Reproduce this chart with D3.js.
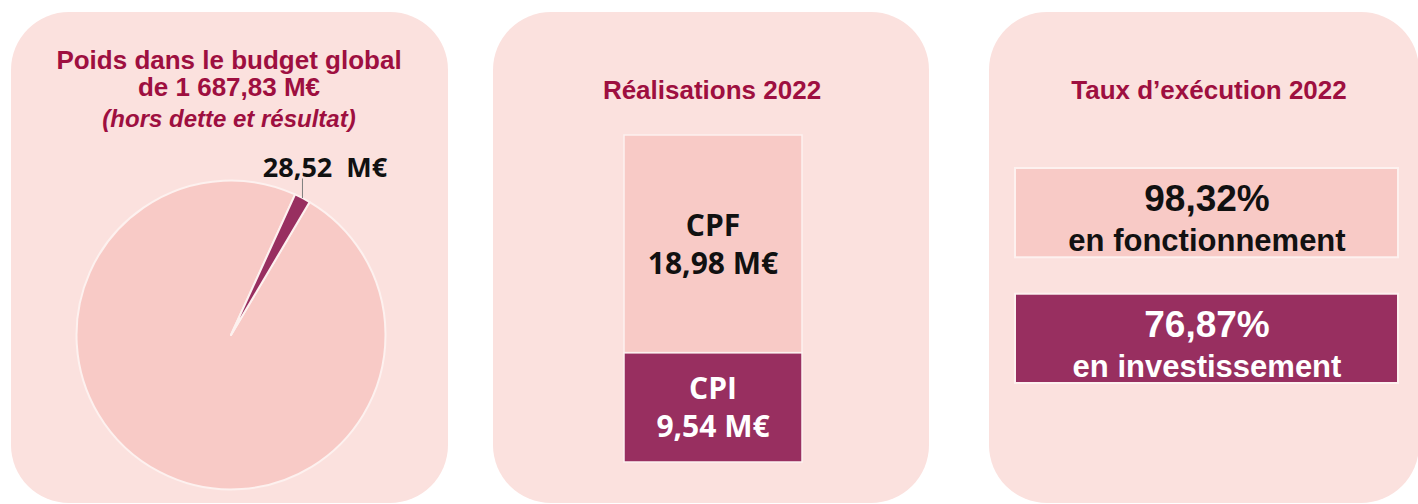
<!DOCTYPE html>
<html>
<head>
<meta charset="utf-8">
<script src="https://cdn.jsdelivr.net/npm/d3@7"></script>
<style>
  body { margin: 0; background: #fff; }
  svg { display: block; }
</style>
</head>
<body>
<script>
// Data
const budgetTotal = '1 687,83 M€';
const pieNames = ['Reste du budget', 'Secteur'];
const pieValues = [1659.31, 28.52];
const pieLabel = '28,52  M€';

const barNames = ['CPI', 'CPF'];
const barValues = [9.54, 18.98];
const barLabels = ['9,54 M€', '18,98 M€'];

const rateNames = ['en fonctionnement', 'en investissement'];
const rateLabels = ['98,32%', '76,87%'];

const W = 1418, H = 504;
const pinkBg = '#fbe1de', pinkFill = '#f8cac6', purple = '#982f60', titleCol = '#9e0f40';

const svg = d3.select('body').append('svg')
    .attr('width', W)
    .attr('height', H);

// three rounded panels
const panels = [
    {x: 11, w: 437, title: ['Poids dans le budget global', 'de ' + budgetTotal]},
    {x: 493, w: 436, title: ['Réalisations 2022']},
    {x: 989, w: 430, title: ['Taux d’exécution 2022']}
];
svg.selectAll('rect.panel').data(panels).join('rect')
    .attr('class', 'panel')
    .attr('x', d => d.x).attr('y', 12)
    .attr('width', d => d.w).attr('height', 491)
    .attr('rx', 58).attr('ry', 58)
    .attr('fill', pinkBg);

const titleFont = '"Liberation Sans", Arial, sans-serif';

// ---- panel 1 : pie ----
const p1 = svg.append('g');
p1.append('text').attr('x', 229).attr('y', 69)
    .attr('text-anchor', 'middle').attr('font-family', titleFont)
    .attr('font-weight', 'bold').attr('font-size', 26).attr('fill', titleCol)
    .text(panels[0].title[0]);
p1.append('text').attr('x', 229).attr('y', 96)
    .attr('text-anchor', 'middle').attr('font-family', titleFont)
    .attr('font-weight', 'bold').attr('font-size', 26).attr('fill', titleCol)
    .text(panels[0].title[1]);
p1.append('text').attr('x', 229).attr('y', 127)
    .attr('text-anchor', 'middle').attr('font-family', titleFont)
    .attr('font-weight', 'bold').attr('font-style', 'italic')
    .attr('font-size', 24).attr('fill', titleCol)
    .text('(hors dette et résultat)');

const cx = 231, cy = 335, r = 154.5;
const start = 30.6 * Math.PI / 180;
const pie = d3.pie().sort(null).startAngle(start).endAngle(start + 2 * Math.PI);
const arcs = pie(pieValues);
const arc = d3.arc().innerRadius(0).outerRadius(r);

const pg = p1.append('g').attr('transform', `translate(${cx},${cy})`);
pg.selectAll('path').data(arcs).join('path')
    .attr('d', arc)
    .attr('fill', (d, i) => i === 1 ? purple : pinkFill)
    .attr('stroke', '#fdf1ef')
    .attr('stroke-width', 2)
    .attr('stroke-linejoin', 'round');

// label with leader line
const edge = d3.arc().innerRadius(r).outerRadius(r).centroid(arcs[1]);
pg.append('line')
    .attr('x1', edge[0]).attr('y1', edge[1])
    .attr('x2', edge[0]).attr('y2', -r - 2)
    .attr('stroke', '#7f7f7f').attr('stroke-width', 1);
pg.append('text')
    .attr('x', 94).attr('y', -158)
    .attr('text-anchor', 'middle')
    .attr('font-family', '"Open Sans", sans-serif')
    .attr('font-weight', 'bold').attr('font-size', 27)
    .attr('fill', '#111')
    .style('white-space', 'pre')
    .text(pieLabel);

// ---- panel 2 : stacked bar ----
const p2 = svg.append('g');
p2.append('text').attr('x', 712).attr('y', 99)
    .attr('text-anchor', 'middle').attr('font-family', titleFont)
    .attr('font-weight', 'bold').attr('font-size', 26).attr('fill', titleCol)
    .text(panels[1].title[0]);

const y = d3.scaleLinear().domain([0, d3.sum(barValues)]).range([462, 135]);
const x = d3.scaleBand().domain(['2022']).range([624, 802]);
const stack = d3.stack().keys(barNames)([Object.fromEntries(barNames.map((k, i) => [k, barValues[i]]))]);

p2.selectAll('rect.seg').data(stack).join('rect')
    .attr('class', 'seg')
    .attr('x', x('2022')).attr('width', x.bandwidth())
    .attr('y', d => y(d[0][1]))
    .attr('height', d => y(d[0][0]) - y(d[0][1]))
    .attr('fill', (d, i) => i === 0 ? purple : pinkFill)
    .attr('stroke', '#fdf1ef').attr('stroke-width', 1.5);

const barFont = '"Open Sans", sans-serif';
stack.forEach((s, i) => {
    const yc = (y(s[0][0]) + y(s[0][1])) / 2;
    const col = i === 0 ? '#fff' : '#111';
    const g = p2.append('g');
    g.append('text').attr('x', x('2022') + x.bandwidth() / 2).attr('y', yc - 8)
        .attr('text-anchor', 'middle').attr('font-family', barFont)
        .attr('font-weight', 'bold').attr('font-size', 30).attr('fill', col)
        .text(barNames[i]);
    g.append('text').attr('x', x('2022') + x.bandwidth() / 2).attr('y', yc + 30)
        .attr('text-anchor', 'middle').attr('font-family', barFont)
        .attr('font-weight', 'bold').attr('font-size', 30).attr('fill', col)
        .text(barLabels[i]);
});

// ---- panel 3 : execution rates ----
const p3 = svg.append('g');
p3.append('text').attr('x', 1209).attr('y', 99)
    .attr('text-anchor', 'middle').attr('font-family', titleFont)
    .attr('font-weight', 'bold').attr('font-size', 26).attr('fill', titleCol)
    .text(panels[2].title[0]);

const ry = d3.scaleBand().domain(rateNames).range([168, 383]).paddingInner(0.29);
const boxes = p3.selectAll('g.box').data(rateNames).join('g').attr('class', 'box');
boxes.append('rect')
    .attr('x', 1015).attr('width', 383)
    .attr('y', d => ry(d)).attr('height', ry.bandwidth())
    .attr('fill', (d, i) => i === 0 ? pinkFill : purple)
    .attr('stroke', '#fdf1ef').attr('stroke-width', 2);
boxes.append('text')
    .attr('x', 1207).attr('y', d => ry(d) + 43)
    .attr('text-anchor', 'middle').attr('font-family', titleFont)
    .attr('font-weight', 'bold').attr('font-size', 37)
    .attr('fill', (d, i) => i === 0 ? '#111' : '#fff')
    .text((d, i) => rateLabels[i]);
boxes.append('text')
    .attr('x', 1207).attr('y', d => ry(d) + 83)
    .attr('text-anchor', 'middle').attr('font-family', titleFont)
    .attr('font-weight', 'bold').attr('font-size', 31)
    .attr('fill', (d, i) => i === 0 ? '#111' : '#fff')
    .text(d => d);
</script>
</body>
</html>
